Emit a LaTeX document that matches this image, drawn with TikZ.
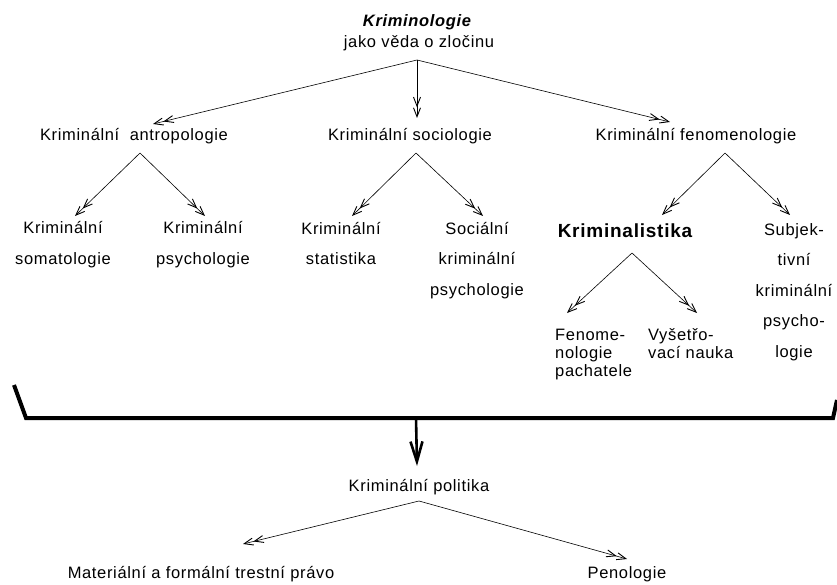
\documentclass[tikz,border=0pt]{standalone}
\usepackage{fontspec}
\setmainfont{Liberation Sans}[LetterSpace=4]
\usetikzlibrary{arrows.meta}
\tikzset{
  lbl/.style={font=\fontsize{16.5}{30.5}\selectfont, inner sep=0pt, anchor=base},
  mlbl/.style={lbl, align=center},
  tight/.style={font=\fontsize{16.5}{18}\selectfont, inner sep=0pt, anchor=base west, align=left},
  arr/.style={line width=0.6pt, -{Straight Barb[length=9pt,width=7pt,line width=0.9pt] Straight Barb[length=9pt,width=7pt,line width=0.9pt]}},
  thickarr/.style={line width=2.6pt, -{Straight Barb[length=20pt,width=12pt]}},
  brk/.style={line width=4pt, line join=miter}
}
\begin{document}
\begin{tikzpicture}[x=1pt,y=-1pt]
\useasboundingbox (0,0) rectangle (837,585);
% texts (multi-line nodes: base = baseline of last line)
\node[lbl, font=\fontsize{16.5}{20}\selectfont\bfseries\itshape] (title) at (417,27) {Kriminologie};
\node[lbl] (title2) at (419,48) {jako věda o zločinu};
\node[lbl] (antr) at (134,141) {Kriminální\ \ antropologie};
\node[lbl] (soc) at (410,141) {Kriminální sociologie};
\node[lbl] (fen) at (696,141) {Kriminální fenomenologie};
\node[mlbl] (som) at (63,264) {Kriminální\\somatologie};
\node[mlbl] (psy) at (203,264) {Kriminální\\psychologie};
\node[mlbl] (stat) at (341,265) {Kriminální\\statistika};
\node[mlbl] (sockp) at (477,295) {Sociální\\kriminální\\psychologie};
\node[lbl, font=\fontsize{19}{22}\selectfont\bfseries] (krim) at (625,237) {Kriminalistika};
\node[mlbl] (subj) at (794,357) {Subjek-\\tivní\\kriminální\\psycho-\\logie};
\node[tight] (fenp) at (555,376) {Fenome-\\nologie\\pachatele};
\node[tight] (vys) at (648,358) {Vyšetřo-\\vací nauka};
\node[lbl] (pol) at (419,491) {Kriminální politika};
\node[lbl] (mat) at (201,578) {Materiální a formální trestní právo};
\node[lbl] (pen) at (627,578) {Penologie};
% connector points
\coordinate (t0) at (417,60);
\coordinate (t1) at (153,124);
\coordinate (t2) at (417,118);
\coordinate (t3) at (670,122);
\coordinate (a0) at (140,153);
\coordinate (a1) at (75,216);
\coordinate (a2) at (205,216);
\coordinate (s0) at (416,153);
\coordinate (s1) at (352,216);
\coordinate (s2) at (483,216);
\coordinate (f0) at (725,153);
\coordinate (f1) at (662,215);
\coordinate (f2) at (790,215);
\coordinate (k0) at (632,253);
\coordinate (k1) at (567,313);
\coordinate (k2) at (697,313);
\coordinate (b1) at (14,385);
\coordinate (b2) at (26,418);
\coordinate (b3) at (833,418);
\coordinate (b4) at (837,400);
\coordinate (bm) at (416,418);
\coordinate (p1) at (417,466);
\coordinate (p0) at (419,501);
\coordinate (p2) at (243,544);
\coordinate (p3) at (627,559);
% connectors
\draw[arr] (t0) -- (t1);
\draw[arr] (t0) -- (t2);
\draw[arr] (t0) -- (t3);
\draw[arr] (a0) -- (a1);
\draw[arr] (a0) -- (a2);
\draw[arr] (s0) -- (s1);
\draw[arr] (s0) -- (s2);
\draw[arr] (f0) -- (f1);
\draw[arr] (f0) -- (f2);
\draw[arr] (k0) -- (k1);
\draw[arr] (k0) -- (k2);
\draw[brk] (b1) -- (b2) -- (b3) -- (b4);
\draw[thickarr] (bm) -- (p1);
\draw[arr] (p0) -- (p2);
\draw[arr] (p0) -- (p3);
\end{tikzpicture}
\end{document}
